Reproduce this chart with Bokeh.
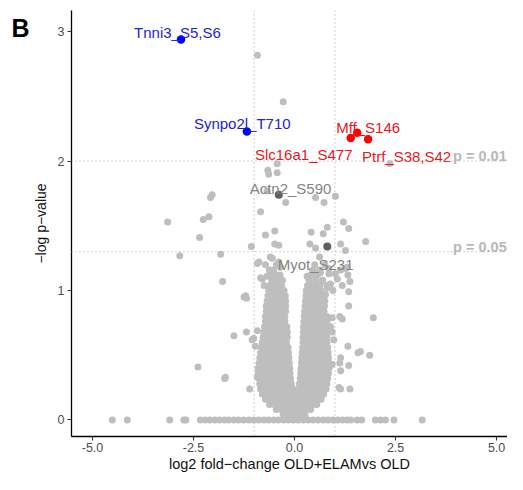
from bokeh.plotting import figure
from bokeh.models import (ColumnDataSource, Span, Label, FixedTicker, Range1d,
                          LinearAxis, CustomJSTickFormatter)
from bokeh.core.properties import value
from bokeh.embed import file_html
from bokeh.resources import INLINE

# ---------------- data ----------------
# proteins with -log p = 0 (baseline row)
zero_x = [-4.51, -4.14, -3.09, -2.74, -2.69, -2.33, -2.21, -2.1, -1.97, -1.86, -1.74,
          -1.63, -1.5, -1.39, -1.26, -1.13, -1.01, -0.89, -0.76, -0.64, -0.51, -0.4,
          -0.27, -0.15, -0.03, 0.09, 0.21, 0.34, 0.46, 0.58, 0.71, 0.83, 0.95, 1.07,
          1.19, 1.3, 1.39, 1.55, 1.66, 2.0, 2.13, 2.25, 2.46, 3.16]

# dense central "volcano" cloud: (-log p, [log2 fold changes])
blob_rows = [
    (0.04, [-0.28, -0.17, -0.06, 0.05, 0.16, 0.26]),
    (0.08, [-0.45, -0.33, -0.21, -0.09, 0.03, 0.15, 0.27, 0.4]),
    (0.12, [-0.62, -0.5, -0.38, -0.26, -0.14, -0.02, 0.1, 0.22, 0.34, 0.46, 0.55]),
    (0.16, [-0.72, -0.6, -0.48, -0.36, -0.24, -0.12, 0.0, 0.12, 0.24, 0.36, 0.48, 0.6, 0.66]),
    (0.20, [-0.8, -0.68, -0.56, -0.44, -0.32, -0.2, -0.08, 0.04, 0.16, 0.28, 0.4, 0.52, 0.64, 0.72]),
    (0.24, [-0.84, -0.72, -0.6, -0.48, -0.36, -0.24, -0.12, -0.04, 0.1, 0.2, 0.32, 0.44, 0.56, 0.68, 0.78]),
    (0.28, [-0.86, -0.74, -0.62, -0.5, -0.38, -0.26, -0.14, -0.08, 0.12, 0.24, 0.36, 0.48, 0.6, 0.72, 0.8]),
    (0.32, [-0.88, -0.76, -0.64, -0.52, -0.4, -0.28, -0.16, -0.1, 0.14, 0.22, 0.34, 0.46, 0.58, 0.7, 0.82]),
    (0.36, [-0.9, -0.78, -0.66, -0.54, -0.42, -0.3, -0.18, -0.11, 0.15, 0.26, 0.38, 0.5, 0.62, 0.74, 0.84]),
    (0.40, [-0.9, -0.79, -0.67, -0.55, -0.43, -0.31, -0.19, -0.12, 0.16, 0.28, 0.4, 0.52, 0.64, 0.76, 0.85]),
    (0.44, [-0.88, -0.76, -0.64, -0.52, -0.4, -0.28, -0.13, 0.17, 0.29, 0.41, 0.53, 0.65, 0.77, 0.85]),
    (0.48, [-0.86, -0.74, -0.62, -0.5, -0.38, -0.26, -0.14, 0.18, 0.3, 0.42, 0.54, 0.66, 0.78, 0.84]),
    (0.52, [-0.84, -0.72, -0.6, -0.48, -0.36, -0.24, -0.15, 0.19, 0.31, 0.43, 0.55, 0.67, 0.79, 0.83]),
    (0.56, [-0.82, -0.7, -0.58, -0.46, -0.34, -0.22, -0.16, 0.2, 0.32, 0.44, 0.56, 0.68, 0.82]),
    (0.60, [-0.8, -0.68, -0.56, -0.44, -0.32, -0.2, 0.21, 0.33, 0.45, 0.57, 0.69, 0.8]),
    (0.64, [-0.78, -0.66, -0.54, -0.42, -0.3, -0.18, 0.21, 0.33, 0.45, 0.57, 0.69, 0.8]),
    (0.68, [-0.76, -0.64, -0.52, -0.4, -0.28, -0.18, 0.22, 0.34, 0.46, 0.58, 0.7, 0.8]),
    (0.72, [-0.74, -0.62, -0.5, -0.38, -0.26, -0.19, 0.22, 0.34, 0.46, 0.58, 0.7, 0.8]),
    (0.76, [-0.72, -0.6, -0.48, -0.36, -0.24, 0.23, 0.35, 0.47, 0.59, 0.71, 0.8]),
    (0.80, [-0.72, -0.6, -0.48, -0.36, -0.24, 0.24, 0.36, 0.48, 0.6, 0.72, 0.8]),
    (0.84, [-0.7, -0.58, -0.46, -0.34, -0.22, 0.25, 0.37, 0.49, 0.61, 0.73]),
    (0.88, [-0.7, -0.58, -0.46, -0.34, -0.22, 0.26, 0.38, 0.5, 0.62, 0.74]),
    (0.92, [-0.68, -0.56, -0.44, -0.32, -0.22, 0.27, 0.39, 0.51, 0.63, 0.75]),
    (0.96, [-0.66, -0.54, -0.42, -0.3, -0.23, 0.28, 0.4, 0.52, 0.64, 0.72]),
    (1.00, [-0.64, -0.52, -0.4, -0.28, 0.29, 0.41, 0.53, 0.65, 0.95]),
    (1.04, [-0.62, -0.48, -0.32, -0.75, 0.32, 0.46, 0.62, 0.8]),
    (1.08, [-0.56, -0.4, 0.36, 0.52, 0.7]),
    (1.12, [-0.6, -0.45, -0.36, 0.4, 0.56, 0.48]),
    (1.16, [-0.52, -0.62, 0.45, 0.62]),
    (1.20, [-0.45, 0.5, 0.75]),
    (1.26, [-0.6, 0.62]),
]

# scattered proteins outside the dense cloud
scatter_x = [-0.92, -0.28, 2.36, -0.43, -0.66, -0.64, -0.43, -2.04, -2.08, -0.68, -0.22,
             0.52, 0.73, 1.01, -2.26, -2.12, -3.14, -2.35, -0.84, -0.72, -0.49, -0.49,
             -0.39, -1.07, -1.83, -2.84, 0.41, 0.71, 0.81, 0.38, 0.52, 1.21, 1.34, 1.76,
             -0.88, -1.78, -1.25, -1.19, -1.21, -0.8, -1.19, -1.5, -2.39, -1.71, -1.73,
             -1.11, -0.92, -0.92, -1.01, -0.97, 1.26, 1.32, 1.37, 1.34, 1.34, 1.95, 1.63,
             1.57, 1.86, 1.32, 1.34, 1.37, 1.14, 1.12, 0.93, 0.89, 1.14, 1.1, 1.14, 0.93,
             1.18, 1.12, 1.26, 1.14, 0.85, 1.01, 0.85, 0.77, 0.89, 0.93, 0.97, -1.05,
             -0.84, -0.92, -0.84, -0.55, -0.39, -0.35, -0.72, -0.84, -0.68, -0.52, -0.43,
             -0.3, -0.26, 0.64, 0.85, 0.69, 0.89, 0.56, 0.81, 1.06, 1.14, 1.3, 1.18, 0.31]
scatter_y = [2.82, 2.46, 1.98, 1.98, 1.93, 1.9, 1.91, 1.74, 1.72, 1.77, 1.68,
             1.72, 1.68, 1.73, 1.55, 1.57, 1.53, 1.41, 1.61, 1.43, 1.46, 1.36,
             1.35, 1.34, 1.28, 1.27, 1.45, 1.44, 1.49, 1.36, 1.33, 1.53, 1.48, 1.38,
             1.22, 1.07, 0.95, 0.94, 0.96, 1.09, 0.68, 0.65, 0.41, 0.33, 0.32,
             0.24, 1.21, 0.69, 0.63, 0.57, 1.31, 1.12, 1.07, 0.99, 0.88, 0.79, 0.53,
             0.52, 0.5, 0.57, 0.42, 0.24, 0.48, 0.44, 0.43, 0.42, 0.38, 0.25, 0.24, 0.79,
             0.78, 0.8, 1.17, 1.36, 1.17, 1.13, 1.04, 0.97, 0.72, 0.68, 0.62, 0.62,
             0.42, 0.33, 0.27, 1.25, 1.22, 1.18, 1.2, 1.1, 1.11, 1.05, 1.03,
             1.08, 1.0, 1.14, 1.13, 1.08, 1.05, 1.03, 1.02, 1.09, 1.16, 1.18, 1.04, 1.11]

# annotated, non-significant sites (dark grey)
note_names = ["Actn2_S590", "Myot_S231"]
note_x = [-0.39, 0.81]
note_y = [1.74, 1.34]

# significant sites
sig_names = ["Tnni3_S5,S6", "Synpo2l_T710", "Slc16a1_S477", "Mff_S146", "Ptrf_S38,S42"]
sig_x = [-2.81, -1.18, 1.39, 1.55, 1.82]
sig_y = [2.94, 2.23, 2.18, 2.22, 2.17]
sig_dir = ["down", "down", "up", "up", "up"]

x_ticks = [-5.0, -2.5, 0.0, 2.5, 5.0]
x_tick_labels = ["-5.0", "-2.5", "0.0", "2.5", "5.0"]
y_ticks = [0, 1, 2, 3]
p_thresholds = [("p = 0.01", 2.0), ("p = 0.05", 1.301)]

# ---------------- figure ----------------
FONT = "Liberation Sans"

p = figure(width=507, height=474, output_backend="svg", toolbar_location=None,
           x_range=Range1d(-5.52, 5.27), y_range=Range1d(-0.128, 3.165),
           min_border_left=71, min_border_right=0, min_border_top=10, min_border_bottom=0)
p.grid.visible = False
p.outline_line_color = None
p.background_fill_color = "white"
p.border_fill_color = "white"

for ax in (p.xaxis[0], p.yaxis[0]):
    ax.axis_line_color = "black"
    ax.axis_line_width = 1.3
    ax.major_tick_line_color = "#333333"
    ax.major_tick_line_width = 1.1
    ax.major_tick_out = 4
    ax.major_tick_in = 0
    ax.minor_tick_line_color = None
    ax.major_label_text_color = "#4d4d4d"
    ax.major_label_text_font = FONT
    ax.major_label_text_font_size = "12.5px"
    ax.major_label_standoff = 3

p.xaxis.ticker = FixedTicker(ticks=x_ticks)
p.xaxis.major_label_overrides = {t: s for t, s in zip(x_ticks, x_tick_labels)}
p.xaxis.major_label_standoff = 2
p.xaxis.axis_label = "log2 fold\u2212change OLD+ELAMvs OLD"
p.xaxis.axis_label_text_font = FONT
p.xaxis.axis_label_text_font_size = "14.5px"
p.xaxis.axis_label_text_font_style = "normal"
p.xaxis.axis_label_text_color = "#111111"
p.xaxis.axis_label_standoff = 1

p.yaxis.ticker = FixedTicker(ticks=y_ticks)
p.yaxis.axis_label = "\u2212log p\u2212value"
p.yaxis.axis_label_text_font = FONT
p.yaxis.axis_label_text_font_size = "14px"
p.yaxis.axis_label_text_font_style = "normal"
p.yaxis.axis_label_text_color = "#111111"
p.yaxis.axis_label_standoff = 6

# panel letter "B" as an outer, line-less axis label
b_axis = LinearAxis(ticker=FixedTicker(ticks=[3.03]),
                    formatter=CustomJSTickFormatter(code="return 'B'"),
                    axis_line_color=None, major_tick_line_color=None,
                    minor_tick_line_color=None, major_tick_out=0, major_tick_in=0,
                    major_label_standoff=0, major_label_text_color="black",
                    major_label_text_font=FONT, major_label_text_font_size="25px",
                    major_label_text_font_style="bold")
p.add_layout(b_axis, "left")

# threshold lines
for loc in (-1, 1):
    p.add_layout(Span(location=loc, dimension="height", line_color="#b5b5b5",
                      line_dash="1 3", line_width=1.3))
for _, loc in p_thresholds:
    p.add_layout(Span(location=loc, dimension="width", line_color="#b5b5b5",
                      line_dash="1 3", line_width=1.3))

# grey points
gx, gy = list(zero_x), [0.0] * len(zero_x)
for yv, xs in blob_rows:
    for xv in xs:
        gx.append(xv)
        gy.append(yv)
gx += scatter_x
gy += scatter_y
p.scatter(gx, gy, size=7, color="#bebebe", line_color=None)

# annotated grey
note_src = ColumnDataSource(dict(x=note_x, y=note_y, name=note_names,
                                 dx=[11.7, -11.7], dy=[-6, 18]))
p.scatter("x", "y", source=note_src, size=8, color="#5f5f5f", line_color=None)

# significant
sig_colors = ["#0000ff" if d == "down" else "#ff0000" for d in sig_dir]
sig_text_colors = ["#2323d8" if d == "down" else "#e8161b" for d in sig_dir]
sig_src = ColumnDataSource(dict(x=sig_x, y=sig_y, name=sig_names, c=sig_colors,
                                tc=sig_text_colors,
                                dx=[-3.6, -4.6, -47, 11, 38.5],
                                dy=[-6.7, -8.4, 16.6, -5.7, 17.7]))
p.scatter("x", "y", source=sig_src, size=8.5, color="c", line_color=None)

p.text("x", "y", text="name", source=note_src, x_offset="dx", y_offset="dy",
       text_align="center", text_baseline="alphabetic", text_color="#858585",
       text_font=value(FONT), text_font_size="15px")
p.text("x", "y", text="name", source=sig_src, x_offset="dx", y_offset="dy",
       text_align="center", text_baseline="alphabetic", text_color="tc",
       text_font=value(FONT), text_font_size="15px")

# p-value threshold labels (just above their lines, at the right edge)
for txt, loc in p_thresholds:
    p.add_layout(Label(x=5.25, y=loc, y_offset=5, text=txt, text_align="right",
                       text_baseline="alphabetic", text_color="#b8b8b8",
                       text_font=FONT, text_font_size="14.5px", text_font_style="bold"))

open("out.html", "w").write(file_html(p, INLINE))
